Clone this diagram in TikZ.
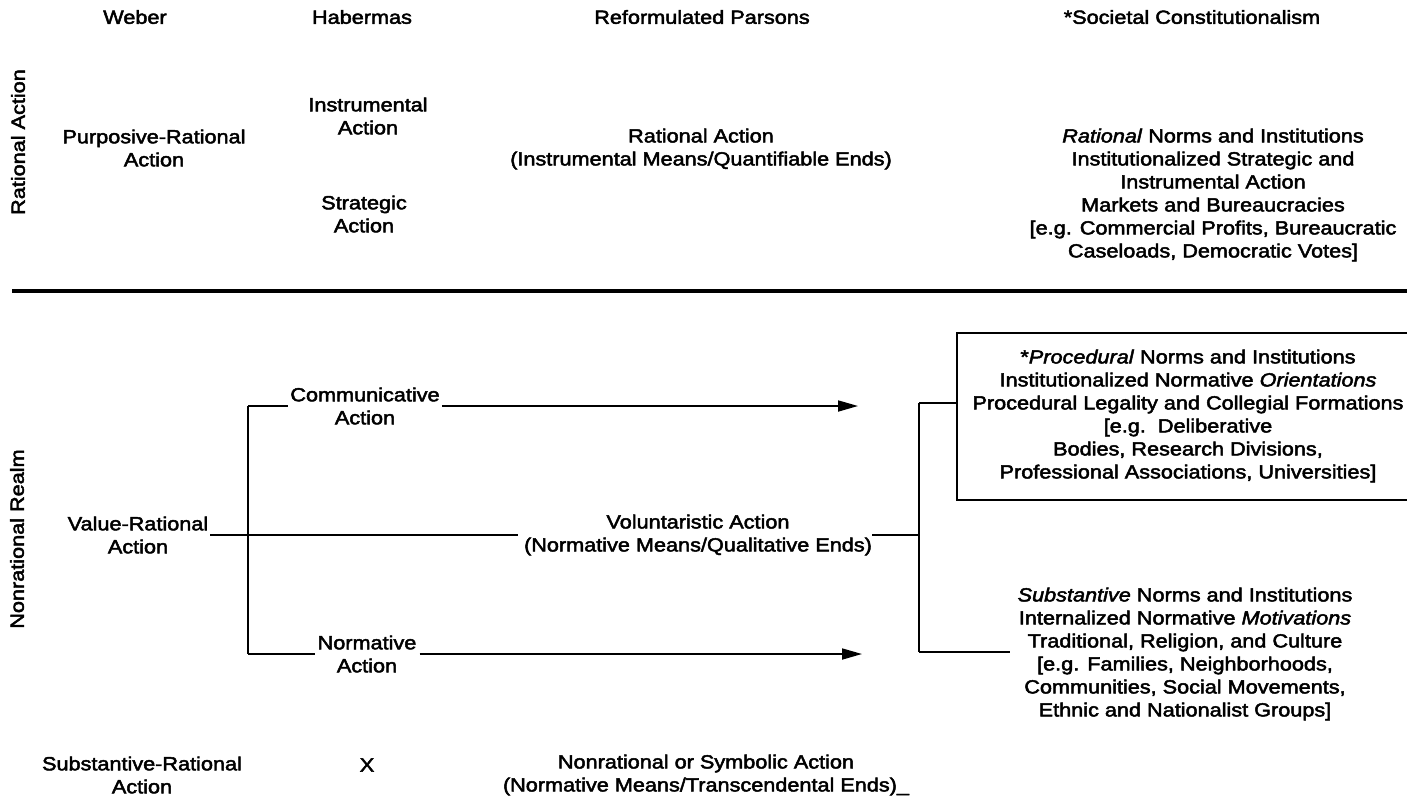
\documentclass[tikz,border=0pt]{standalone}
\usepackage{fontspec}
\setmainfont{Liberation Sans}[FakeStretch=1.14, UprightFeatures={FakeBold=2.5}, ItalicFeatures={FakeBold=2.5}]
\usetikzlibrary{arrows.meta}
\begin{document}
\begin{tikzpicture}[x=1pt,y=-1pt,
  txt/.style={font=\fontsize{19}{23}\selectfont, align=center, inner sep=0pt},
  conn/.style={line width=1.8pt},
  arr/.style={conn, -{Triangle[length=20pt,width=11pt]}},
  divider/.style={line width=3.5pt},
  boxline/.style={line width=1.8pt}]
\useasboundingbox (0,0) rectangle (1407,796);
% headers
\node[txt] (hw) at (135,17) {Weber};
\node[txt] (hh) at (362,17) {Habermas};
\node[txt] (hp) at (702,17) {Reformulated Parsons};
\node[txt] (hs) at (1192,17) {*Societal Constitutionalism};
% side labels
\node[txt, rotate=90] (ra) at (18,142) {Rational Action};
\node[txt, rotate=90] (nr) at (17,539) {Nonrational Realm};
% rational row
\node[txt] (pr) at (154,148) {Purposive-Rational\\Action};
\node[txt] (ia) at (368,116) {Instrumental\\Action};
\node[txt] (sa) at (364,214) {Strategic\\Action};
\node[txt] (rat) at (701,149) {Rational Action\\(Instrumental Means/Quantifiable Ends)};
\node[txt] (rn) at (1213,195) {\textit{Rational} Norms and Institutions\\Institutionalized Strategic and\\Instrumental Action\\Markets and Bureaucracies\\{[e.g.} Commercial Profits, Bureaucratic\\Caseloads, Democratic Votes]};
% divider
\coordinate (dl) at (12,291);
\coordinate (dr) at (1407,291);
\draw[divider] (dl) -- (dr);
% nonrational row
\node[txt] (vr) at (138,535) {Value-Rational\\Action};
\node[txt] (comm) at (365,406) {Communicative\\Action};
\node[txt] (norm) at (367,654) {Normative\\Action};
\node[txt] (vol) at (698,535) {Voluntaristic Action\\(Normative Means/Qualitative Ends)};
% box (open to the right, cut by the page edge)
\coordinate (pnw) at (957,333);
\coordinate (psw) at (957,500);
\coordinate (pne) at (1420,333);
\coordinate (pse) at (1420,500);
\draw[boxline] (pne) -- (pnw) -- (psw) -- (pse);
\node[txt] (proct) at (1188,416)
  {*\textit{Procedural} Norms and Institutions\\Institutionalized Normative \textit{Orientations}\\Procedural Legality and Collegial Formations\\{[e.g.}\ \ Deliberative\\Bodies, Research Divisions,\\Professional Associations, Universities]};
\node[txt] (sub) at (1185,654) {\textit{Substantive} Norms and Institutions\\Internalized Normative \textit{Motivations}\\Traditional, Religion, and Culture\\{[e.g.} Families, Neighborhoods,\\Communities, Social Movements,\\Ethnic and Nationalist Groups]};
% left bracket
\coordinate (bt) at (248,406);
\coordinate (bb) at (248,654);
\draw[conn] (bt) -- (bb);
\draw[conn] ([xshift=2pt]vr.east) -- ([xshift=-6pt]vol.west);
\draw[conn] (bt) -- ([xshift=-2pt]comm.west);
\draw[conn] (bb) -- ([xshift=-2pt]norm.west);
\coordinate (ta) at (858,406);
\coordinate (na) at (862,654);
\draw[arr] ([xshift=2pt]comm.east) -- (ta);
\draw[arr] ([xshift=3pt]norm.east) -- (na);
% right bracket
\coordinate (rt) at (919,403);
\coordinate (rm) at (919,535);
\coordinate (rb) at (919,652);
\coordinate (re) at (1010,652);
\draw[conn] (rt) -- (rb);
\draw[conn] (vol.east) -- (rm);
\draw[conn] (rt) -- (rt -| pnw);
\draw[conn] (rb) -- (re);
% bottom row
\node[txt] (srb) at (142,775) {Substantive-Rational\\Action};
\node[txt] (xx) at (367,765) {X};
\node[txt] (nsa) at (706,775) {Nonrational or Symbolic Action\\(Normative Means/Transcendental Ends)\_};
\end{tikzpicture}
\end{document}
